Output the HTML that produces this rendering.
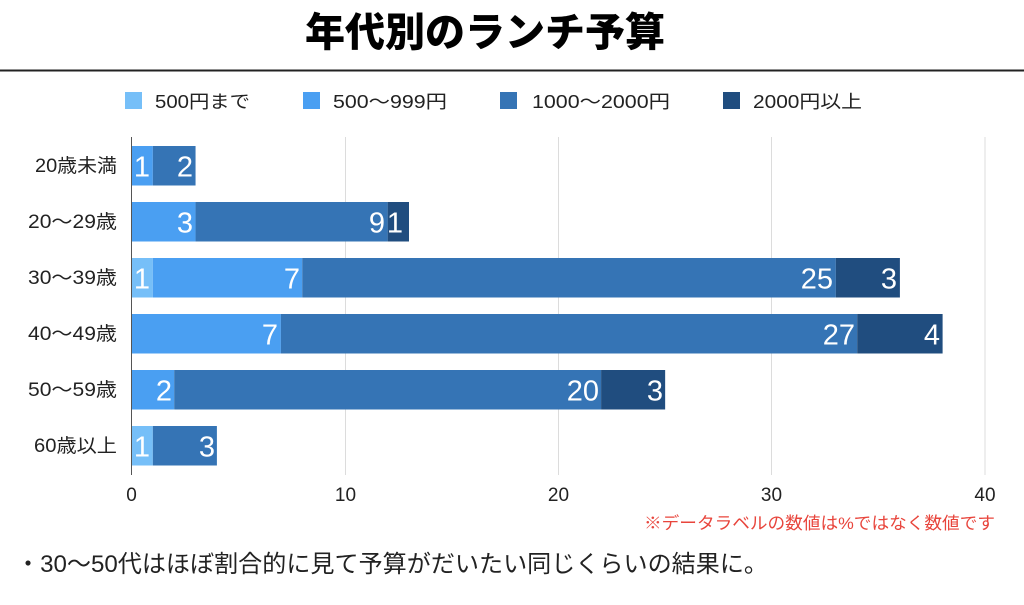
<!DOCTYPE html>
<html>
<head>
<meta charset="utf-8">
<style>
html,body{margin:0;padding:0;background:#fff;}
svg{display:block;}
text{font-family:"Liberation Sans","Noto Sans CJK JP",sans-serif;}
</style>
</head>
<body>
<svg width="1024" height="605" viewBox="0 0 1024 605" xmlns="http://www.w3.org/2000/svg">
  <rect width="1024" height="605" fill="#fff"/>
  <!-- title -->
  <text x="305" y="46" font-size="40" font-weight="bold" fill="#000" textLength="360" lengthAdjust="spacingAndGlyphs" style="font-family:'Noto Sans CJK JP',sans-serif;font-weight:900">年代別のランチ予算</text>
  <rect x="0" y="69.5" width="1024" height="2" fill="#222"/>

  <!-- legend -->
  <rect x="125" y="92" width="17" height="17" fill="#76BFF8"/>
  <text x="155" y="108" font-size="18" fill="#222" textLength="95" lengthAdjust="spacingAndGlyphs">500円まで</text>
  <rect x="303" y="92" width="17" height="17" fill="#4A9FF2"/>
  <text x="333" y="108" font-size="18" fill="#222" textLength="114" lengthAdjust="spacingAndGlyphs">500〜999円</text>
  <rect x="500" y="92" width="17" height="17" fill="#3574B5"/>
  <text x="532" y="108" font-size="18" fill="#222" textLength="138" lengthAdjust="spacingAndGlyphs">1000〜2000円</text>
  <rect x="723" y="92" width="17" height="17" fill="#204D7F"/>
  <text x="753" y="108" font-size="18" fill="#222" textLength="109" lengthAdjust="spacingAndGlyphs">2000円以上</text>

  <!-- gridlines -->
  <g stroke="#dcdcdc" stroke-width="1">
    <line x1="345.5" y1="137" x2="345.5" y2="475"/>
    <line x1="558.5" y1="137" x2="558.5" y2="475"/>
    <line x1="771.5" y1="137" x2="771.5" y2="475"/>
    <line x1="985" y1="137" x2="985" y2="475"/>
  </g>

  <!-- bars -->
  <rect x="131.5" y="146" width="21.35" height="39.5" fill="#4A9FF2"/>
  <rect x="152.85" y="146" width="42.7" height="39.5" fill="#3574B5"/>
  <rect x="131.5" y="202" width="64.05" height="39.5" fill="#4A9FF2"/>
  <rect x="195.55" y="202" width="192.1" height="39.5" fill="#3574B5"/>
  <rect x="387.65" y="202" width="21.35" height="39.5" fill="#204D7F"/>
  <rect x="131.5" y="258" width="21.35" height="39.5" fill="#76BFF8"/>
  <rect x="152.85" y="258" width="149.4" height="39.5" fill="#4A9FF2"/>
  <rect x="302.25" y="258" width="533.6" height="39.5" fill="#3574B5"/>
  <rect x="835.85" y="258" width="64.05" height="39.5" fill="#204D7F"/>
  <rect x="131.5" y="314" width="149.4" height="39.5" fill="#4A9FF2"/>
  <rect x="280.9" y="314" width="576.3" height="39.5" fill="#3574B5"/>
  <rect x="857.2" y="314" width="85.4" height="39.5" fill="#204D7F"/>
  <rect x="131.5" y="370" width="42.7" height="39.5" fill="#4A9FF2"/>
  <rect x="174.2" y="370" width="426.9" height="39.5" fill="#3574B5"/>
  <rect x="601.1" y="370" width="64.05" height="39.5" fill="#204D7F"/>
  <rect x="131.5" y="426" width="21.35" height="39.5" fill="#76BFF8"/>
  <rect x="152.85" y="426" width="64.05" height="39.5" fill="#3574B5"/>

  <!-- axis -->
  <line x1="131.5" y1="137" x2="131.5" y2="475" stroke="#555" stroke-width="1"/>

  <!-- data labels -->
  <g fill="#fff" font-size="29" text-anchor="end">
    <text x="150" y="176.5">1</text>
    <text x="193" y="176.5">2</text>
    <text x="193" y="232.5">3</text>
    <text x="385" y="232.5">9</text>
    <text x="403" y="232.5">1</text>
    <text x="150" y="288.5">1</text>
    <text x="300" y="288.5">7</text>
    <text x="833" y="288.5">25</text>
    <text x="897" y="288.5">3</text>
    <text x="278" y="344.5">7</text>
    <text x="855" y="344.5">27</text>
    <text x="940" y="344.5">4</text>
    <text x="172" y="400.5">2</text>
    <text x="599" y="400.5">20</text>
    <text x="663" y="400.5">3</text>
    <text x="150" y="456.5">1</text>
    <text x="215" y="456.5">3</text>
  </g>

  <!-- y labels -->
  <g fill="#222" font-size="19">
    <text x="35" y="172" textLength="82" lengthAdjust="spacingAndGlyphs">20歳未満</text>
    <text x="28" y="228" textLength="89" lengthAdjust="spacingAndGlyphs">20〜29歳</text>
    <text x="28" y="284" textLength="89" lengthAdjust="spacingAndGlyphs">30〜39歳</text>
    <text x="28" y="340" textLength="89" lengthAdjust="spacingAndGlyphs">40〜49歳</text>
    <text x="28" y="396" textLength="89" lengthAdjust="spacingAndGlyphs">50〜59歳</text>
    <text x="34" y="452" textLength="83" lengthAdjust="spacingAndGlyphs">60歳以上</text>
  </g>

  <!-- x tick labels -->
  <g fill="#222" font-size="19" text-anchor="middle">
    <text x="131.5" y="501">0</text>
    <text x="345.5" y="501">10</text>
    <text x="558.5" y="501">20</text>
    <text x="771.5" y="501">30</text>
    <text x="985" y="501">40</text>
  </g>

  <!-- note -->
  <text x="644" y="529" font-size="17" fill="#E8453C" textLength="351" lengthAdjust="spacingAndGlyphs">※データラベルの数値は%ではなく数値です</text>

  <!-- bottom text -->
  <text x="16" y="572" font-size="24" fill="#222" textLength="752" lengthAdjust="spacingAndGlyphs">・30〜50代はほぼ割合的に見て予算がだいたい同じくらいの結果に。</text>
</svg>
</body>
</html>
